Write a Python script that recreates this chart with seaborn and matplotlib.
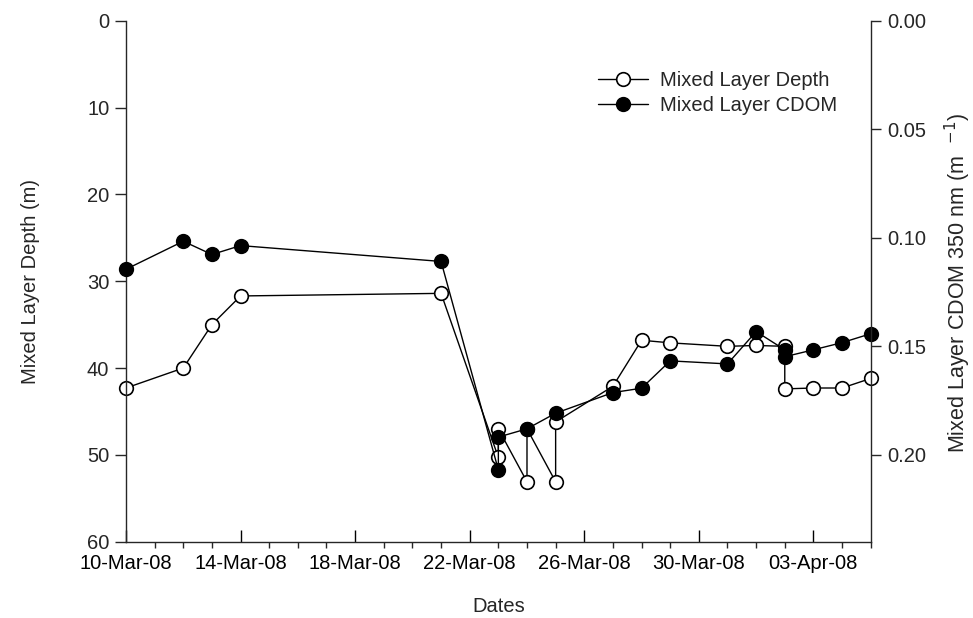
import matplotlib
matplotlib.use("Agg")
import matplotlib.pyplot as plt
import matplotlib.dates as mdates
from matplotlib.ticker import FixedLocator, FormatStrFormatter
import pandas as pd
import seaborn as sns

# Mixed layer depth profiles (m); repeated dates are multiple casts on the same day
depth_dates = ["2008-03-10", "2008-03-12", "2008-03-13", "2008-03-14", "2008-03-21",
               "2008-03-23", "2008-03-23", "2008-03-24", "2008-03-24", "2008-03-25",
               "2008-03-25", "2008-03-27", "2008-03-28", "2008-03-29", "2008-03-31",
               "2008-04-01", "2008-04-02", "2008-04-02", "2008-04-03", "2008-04-04",
               "2008-04-05"]
depth_m = [42.3, 40.0, 35.0, 31.7, 31.4,
           50.3, 47.0, 53.1, 47.0, 53.1,
           46.2, 42.1, 36.8, 37.1, 37.5,
           37.4, 37.5, 42.4, 42.3, 42.3,
           41.2]

# Mixed layer CDOM absorption at 350 nm (m^-1)
cdom_dates = ["2008-03-10", "2008-03-12", "2008-03-13", "2008-03-14", "2008-03-21",
              "2008-03-23", "2008-03-23", "2008-03-24", "2008-03-25", "2008-03-27",
              "2008-03-28", "2008-03-29", "2008-03-31", "2008-04-01", "2008-04-02",
              "2008-04-02", "2008-04-03", "2008-04-04", "2008-04-05"]
cdom_350 = [0.1145, 0.1016, 0.1077, 0.1036, 0.1109,
            0.2069, 0.1918, 0.1880, 0.1808, 0.1713,
            0.1693, 0.1567, 0.1581, 0.1432, 0.1516,
            0.1548, 0.1516, 0.1483, 0.1442]

tick_dates = ["2008-03-10", "2008-03-14", "2008-03-18", "2008-03-22",
              "2008-03-26", "2008-03-30", "2008-04-03"]
depth_ticks = [0, 10, 20, 30, 40, 50, 60]
cdom_ticks = [0.00, 0.05, 0.10, 0.15, 0.20]

depth_df = pd.DataFrame({"date": pd.to_datetime(depth_dates), "depth": depth_m})
cdom_df = pd.DataFrame({"date": pd.to_datetime(cdom_dates), "cdom": cdom_350})

sns.set_theme(style="ticks")
plt.rcParams["font.family"] = ["Liberation Sans", "DejaVu Sans"]
plt.rcParams["font.size"] = 14
plt.rcParams["axes.linewidth"] = 1.0

fig = plt.figure(figsize=(9.73, 6.18), dpi=100)
ax = fig.add_axes([126 / 973, 1 - 541.7 / 618, 744.7 / 973, 521 / 618])
ax2 = ax.twinx()

common = dict(marker="o", markersize=9.8, markeredgewidth=1.2, markeredgecolor="black",
              color="black", linewidth=1.0, clip_on=False, estimator=None, sort=False,
              legend=False)

sns.lineplot(data=depth_df, x="date", y="depth", ax=ax, markerfacecolor="white",
             label="Mixed Layer Depth", **common)
sns.lineplot(data=cdom_df, x="date", y="cdom", ax=ax2, markerfacecolor="black",
             label="Mixed Layer CDOM", **common)

# x axis: dates
ax.set_xlim(pd.Timestamp("2008-03-10"), pd.Timestamp("2008-04-05"))
ax.xaxis.set_major_locator(FixedLocator(mdates.date2num(pd.to_datetime(tick_dates))))
ax.xaxis.set_major_formatter(mdates.DateFormatter("%d-%b-%y"))
ax.xaxis.set_minor_locator(mdates.DayLocator())
ax.tick_params(axis="x", which="major", direction="in", length=9, width=1.0,
               pad=9, labelsize=14.5, colors="black")
ax.tick_params(axis="x", which="minor", direction="out", length=4, width=1.0)

# left axis: depth, inverted
ax.set_ylim(60, 0)
ax.set_yticks(depth_ticks)
ax.tick_params(axis="y", direction="out", length=8, width=1.0, pad=4, labelsize=14.5)

# right axis: CDOM, inverted
ax2.set_ylim(0.24, 0)
ax2.set_yticks(cdom_ticks)
ax2.yaxis.set_major_formatter(FormatStrFormatter("%.2f"))
ax2.tick_params(axis="y", direction="out", length=7, width=1.0, pad=5, labelsize=14.5)

for a in (ax, ax2):
    a.spines["top"].set_visible(False)
ax.spines["right"].set_visible(False)
ax2.spines["left"].set_visible(False)
ax2.spines["bottom"].set_visible(False)

ax.set_xlabel("Dates", fontsize=14.5)
ax.xaxis.set_label_coords(0.5, -0.107)
ax.set_ylabel("Mixed Layer Depth (m)", fontsize=14.5)
ax.yaxis.set_label_coords(-0.1155, 0.5)
ax2.set_ylabel("Mixed Layer CDOM 350 nm (m  $^{-1}$)", fontsize=15.5)
ax2.yaxis.set_label_coords(1.097, 0.497)

h1, l1 = ax.get_legend_handles_labels()
h2, l2 = ax2.get_legend_handles_labels()
ax2.legend(h1 + h2, l1 + l2, loc="upper left", bbox_to_anchor=(598 / 973, 1 - 71 / 618),
           bbox_transform=fig.transFigure, frameon=False, fontsize=14.5,
           handlelength=2.5, handletextpad=0.6, labelspacing=0.3,
           borderpad=0, borderaxespad=0)

fig.savefig("out.png", dpi=100)
